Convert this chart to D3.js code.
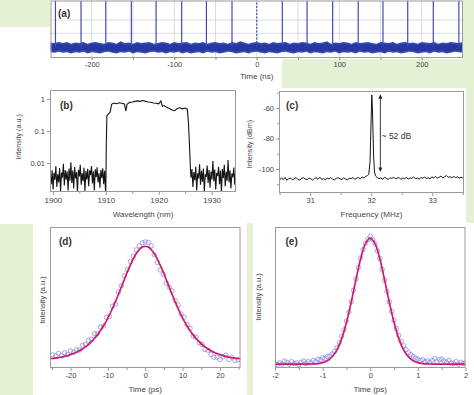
<!DOCTYPE html>
<head>
  <meta charset="utf-8">
  <script src="https://cdn.jsdelivr.net/npm/d3@7"></script>
  <style>
    body { margin: 0; background: #fff; }
    svg { display: block; font-family: 'Liberation Sans', Arial, sans-serif; }
  </style>
</head>
<body>
<svg id="fig" width="474" height="395"></svg>
<script>
// ---- (a) pulse train, time in ns ----
const aPulseT = [-244, -213, -183, -152, -122, -91, -61, -30, 0, 31, 61, 92, 123, 153, 183, 214, 245]
const aPulseH = [1, 1, 1, 1, 1, 1, 1, 1, 1, 1, 1, 1, 1, 1, 1, 1, 1]
const aTicks = [-200, -100, 0, 100, 200]
const aGrid = [-200, -150, -100, -50, 0, 50, 100, 150, 200]
const aGridY = [0.43, 0.66]
// noise band envelope, every 5 ns from -250 to 250
const aBandTop = [0.27,0.26,0.28,0.26,0.28,0.25,0.27,0.26,0.28,0.25,0.27,0.28,0.26,0.25,0.28,0.27,0.25,0.29,0.26,0.27,
  0.25,0.28,0.26,0.27,0.28,0.25,0.26,0.28,0.27,0.25,0.28,0.26,0.27,0.28,0.25,0.27,0.26,0.28,0.25,0.27,
  0.28,0.26,0.27,0.25,0.28,0.26,0.29,0.27,0.25,0.27,0.28,0.26,0.27,0.25,0.28,0.26,0.27,0.28,0.25,0.27,
  0.26,0.28,0.27,0.25,0.28,0.26,0.27,0.29,0.25,0.27,0.26,0.28,0.27,0.25,0.28,0.26,0.27,0.28,0.26,0.25,
  0.28,0.27,0.26,0.28,0.25,0.27,0.28,0.26,0.27,0.25,0.28,0.27,0.26,0.28,0.25,0.27,0.26,0.28,0.27,0.26,0.28]
const aBandBot = [0.1,0.09,0.11,0.09,0.1,0.08,0.1,0.09,0.11,0.08,0.1,0.09,0.08,0.1,0.11,0.09,0.08,0.1,0.09,0.11,
  0.08,0.1,0.09,0.08,0.1,0.11,0.09,0.1,0.08,0.1,0.09,0.11,0.08,0.1,0.08,0.09,0.1,0.08,0.11,0.09,
  0.1,0.08,0.09,0.11,0.1,0.08,0.09,0.1,0.08,0.1,0.11,0.09,0.08,0.1,0.09,0.08,0.1,0.11,0.09,0.08,
  0.1,0.09,0.11,0.08,0.1,0.09,0.08,0.1,0.09,0.11,0.08,0.1,0.09,0.1,0.08,0.11,0.09,0.1,0.08,0.09,
  0.1,0.08,0.11,0.09,0.1,0.08,0.09,0.11,0.1,0.08,0.09,0.1,0.08,0.11,0.09,0.1,0.08,0.09,0.11,0.1,0.09]

// ---- (b) optical spectrum ----
const bTicks = [1900, 1910, 1920, 1930]
const bMinor = [1905, 1915, 1925]
const bYTicks = [1, 0.1, 0.01]
// noise floor 1899.5 .. 1909.95 nm
const bLeft = [0.004,0.0022,0.006,0.0015,0.005,0.003,0.008,0.0018,0.0045,0.0025,0.007,0.0013,0.005,0.0035,0.0095,0.002,0.006,0.003,0.0055,0.0014,
  0.0068,0.0028,0.0105,0.0024,0.0058,0.0016,0.0075,0.0033,0.0052,0.0012,0.0062,0.0038,0.0088,0.0021,0.0049,0.0027,0.0071,0.0013,0.0056,0.0031,
  0.0066,0.0019,0.0059,0.0042,0.0081,0.0023,0.0054,0.0014,0.0064,0.0036,0.0074,0.0025,0.0048,0.0017,0.0061,0.0034,0.0069,0.0022,0.0057,0.0012]
// spectrum top [nm, a.u.]
const bTop = [[1910.0,0.0015],[1910.1,0.05],[1910.2,0.3],[1910.5,0.34],[1910.8,0.38],[1911.1,0.68],[1911.5,0.74],[1912,0.71],[1912.5,0.76],[1913,0.73],
  [1913.5,0.7],[1913.8,0.42],[1914.0,0.68],[1914.5,0.78],[1915,0.8],[1915.5,0.84],[1916,0.87],[1916.5,0.84],[1917,0.89],[1917.5,0.84],
  [1918,0.8],[1918.5,0.79],[1919,0.75],[1919.5,0.73],[1920,0.7],[1920.4,0.86],[1920.7,0.58],[1921,0.62],[1921.5,0.55],[1922,0.5],
  [1922.5,0.45],[1923,0.43],[1923.5,0.5],[1924,0.53],[1924.5,0.49],[1925,0.52],[1925.4,0.48],[1925.6,0.2],[1925.8,0.04],[1926.0,0.006]]
// noise floor 1926.1 .. 1934.9 nm
const bRight = [0.0035,0.0065,0.0018,0.0052,0.0029,0.0078,0.0014,0.0048,0.0033,0.0092,0.0021,0.0057,0.0026,0.0068,0.0013,0.0045,0.0037,0.0083,0.0024,0.0061,
  0.0017,0.0054,0.0031,0.0115,0.0027,0.0063,0.0015,0.0049,0.0039,0.0076,0.0022,0.0058,0.0012,0.0066,0.0034,0.0089,0.0019,0.0053,0.0028,0.0125,
  0.0025,0.0059,0.0016,0.0047,0.0036,0.0072,0.0021,0.0056,0.0014,0.0062]

// ---- (c) RF spectrum ----
const cTicks = [31, 32, 33]
const cMinor = [30.5, 31.5, 32.5, 33.5]
const cYTicks = [-60, -80, -100]
const cYMinor = [-50, -70, -90, -110]
// baseline 30.5 .. 31.94 MHz
const cLeft = [-107.2,-105.8,-106.9,-105.5,-107.5,-106.2,-105.9,-107.1,-106.4,-105.6,-106.8,-107.3,-106.0,-105.7,-106.6,-107.0,-105.9,-106.3,-107.4,-106.1,
  -105.8,-106.7,-105.4,-106.9,-106.2,-107.1,-105.9,-106.5,-105.6,-106.8,-107.0,-106.1,-105.7,-106.4,-106.9,-105.8,-106.6,-107.2,-105.9,-106.3,
  -105.5,-106.8,-106.0,-105.6,-106.4,-105.2,-105.8,-104.9,-104.2]
const cPeak = [[31.96,-103.5],[31.98,-96],[31.99,-82],[32.0,-66],[32.01,-51.5],[32.02,-60],[32.03,-76],[32.04,-92],[32.055,-102]]
// baseline 32.07 .. 33.5 MHz
const cRight = [-104.5,-105.6,-106.3,-105.8,-106.7,-105.4,-106.1,-106.9,-105.7,-106.2,-105.3,-106.5,-106.0,-105.6,-106.8,-105.9,-106.3,-105.5,-106.6,-105.8,
  -106.1,-105.2,-106.4,-105.9,-106.7,-105.6,-106.0,-105.3,-106.2,-105.7,-106.5,-105.1,-105.9,-104.8,-106.0,-105.4,-104.6,-105.8,-105.2,-104.3,
  -105.5,-105.0,-105.7,-104.9,-105.6,-105.1,-105.9,-105.4,-105.8]
const cArrow = { f: 32.15, top: -51, bottom: -102, label: '~ 52 dB', labelF: 32.17, labelDb: -78.5 }

// ---- (d) autocorrelation, ps ----
const dTicks = [-20, -10, 0, 10, 20]
const dMinor = [-25, -15, -5, 5, 15, 25]
// measured points, -24.8 .. 24.8 ps every 0.8 ps
const dDots = [0.108,0.10,0.12,0.10,0.125,0.112,0.14,0.129,0.149,0.147,0.186,0.193,0.228,0.236,0.283,0.282,0.336,0.345,0.417,0.424,
  0.508,0.524,0.624,0.675,0.757,0.809,0.875,0.917,0.97,1.003,1.028,1.035,1.033,1.003,0.93,0.867,0.805,0.769,0.697,0.665,
  0.634,0.554,0.518,0.444,0.417,0.355,0.326,0.262,0.253,0.206,0.193,0.153,0.146,0.112,0.089,0.089,0.07,0.092,0.105,0.07,
  0.09,0.061,0.068]
// fit, -25.6 .. 25.6 ps every 0.8 ps
const dFit = [0.076,0.078,0.081,0.085,0.090,0.095,0.102,0.110,0.119,0.129,0.142,0.156,0.173,0.193,0.216,0.243,0.272,0.306,0.345,0.387,
  0.434,0.488,0.544,0.604,0.665,0.727,0.789,0.845,0.897,0.940,0.973,0.993,1.0,0.993,0.973,0.940,0.897,0.845,0.789,0.727,
  0.665,0.604,0.544,0.488,0.434,0.387,0.345,0.306,0.272,0.243,0.216,0.193,0.173,0.156,0.142,0.129,0.119,0.110,0.102,0.095,
  0.090,0.085,0.081,0.078,0.076]

// ---- (e) compressed pulse autocorrelation, ps ----
const eTicks = [-2, -1, 0, 1, 2]
const eMinor = [-1.5, -0.5, 0.5, 1.5]
// measured points, -2 .. 2 ps every 0.05 ps
const eDots = [0.035,0.028,0.04,0.03,0.055,0.045,0.03,0.05,0.035,0.04,0.025,0.045,0.055,0.035,0.05,0.04,0.06,0.05,0.07,0.065,
  0.08,0.075,0.09,0.095,0.11,0.13,0.16,0.20,0.25,0.30,0.37,0.44,0.52,0.61,0.70,0.79,0.865,0.93,0.98,1.01,
  1.035,1.01,0.975,0.92,0.86,0.775,0.69,0.60,0.52,0.445,0.375,0.31,0.255,0.21,0.175,0.145,0.12,0.105,0.09,0.08,
  0.07,0.06,0.065,0.05,0.055,0.045,0.06,0.075,0.05,0.065,0.07,0.055,0.045,0.06,0.04,0.035,0.05,0.03,0.045,0.035,0.04]
// fit, -2 .. 2 ps every 0.1 ps
const eFit = [0.03,0.03,0.03,0.03,0.03,0.03,0.03,0.031,0.032,0.035,0.042,0.057,0.088,0.143,0.231,0.357,0.517,0.694,0.860,0.977,
  1.02,0.977,0.860,0.694,0.517,0.357,0.231,0.143,0.088,0.057,0.042,0.035,0.032,0.031,0.03,0.03,0.03,0.03,0.03,0.03,0.03]

const svg = d3.select('#fig')
const green = '#e4f1d5', frameCol = '#9a9a9a', txt = '#444'
const grid = (a, b, n) => d3.range(n).map(i => a + i * (b - a) / (n - 1))

// light green page background pieces
svg.append('path').attr('fill', green).attr('d', 'M0,0H50V27H0Z')
svg.append('path').attr('fill', green).attr('d', 'M463,0H474V223H466V88H282V59H463Z')
svg.append('path').attr('fill', green).attr('d', 'M0,224H33V395H0Z')
svg.append('path').attr('fill', green).attr('d', 'M247,223H253V395H247Z')

let clipN = 0
function panel(x, y, top) {
  const [x0, x1] = x.range(), y1 = y.range()[0], y0 = top ?? y.range()[1]
  const g = svg.append('g')
  const id = 'clip' + (clipN++)
  g.append('clipPath').attr('id', id).append('rect')
    .attr('x', x0).attr('y', y0).attr('width', x1 - x0).attr('height', y1 - y0)
  const plot = g.append('g').attr('clip-path', `url(#${id})`)
  return { g, plot, box: [x0, y0, x1, y1] }
}
function frame(p) {
  const [x0, y0, x1, y1] = p.box
  p.g.append('rect').attr('x', x0 + 0.5).attr('y', y0 + 0.5).attr('width', x1 - x0 - 1).attr('height', y1 - y0 - 1)
    .attr('fill', 'none').attr('stroke', frameCol)
}
function styleAxis(ax, size) {
  ax.select('.domain').remove()
  ax.selectAll('line').attr('stroke', frameCol)
  ax.selectAll('text').attr('font-size', size).attr('fill', txt).attr('font-family', null)
}
function xAxis(p, x, ticks, minor, size, len) {
  const y = p.box[3]
  const ax = p.g.append('g').attr('transform', `translate(0,${y})`)
    .call(d3.axisBottom(x).tickValues(ticks).tickSize(len).tickSizeOuter(0).tickPadding(2).tickFormat(d => String(d)))
  styleAxis(ax, size)
  if (minor) {
    const m = p.g.append('g').attr('transform', `translate(0,${y})`)
      .call(d3.axisBottom(x).tickValues(minor).tickSize(2).tickSizeOuter(0).tickFormat(''))
    styleAxis(m, size)
  }
}
function yAxis(p, y, ticks, minor, size, fmt) {
  const x = p.box[0]
  const ax = p.g.append('g').attr('transform', `translate(${x},0)`)
    .call(d3.axisLeft(y).tickValues(ticks).tickSize(3).tickSizeOuter(0).tickPadding(2).tickFormat(fmt))
  styleAxis(ax, size)
  if (minor) {
    const m = p.g.append('g').attr('transform', `translate(${x},0)`)
      .call(d3.axisLeft(y).tickValues(minor).tickSize(2).tickSizeOuter(0).tickFormat(''))
    styleAxis(m, size)
  }
}
function label(x, y, s, size, opts = {}) {
  const t = svg.append('text').attr('x', x).attr('y', y).attr('font-size', size).attr('fill', opts.fill || txt)
    .attr('text-anchor', opts.anchor || 'middle').attr('dominant-baseline', 'central').text(s)
  if (opts.bold) t.attr('font-weight', 'bold')
  if (opts.rotate) t.attr('transform', `rotate(-90,${x},${y})`)
  return t
}

// ================= (a) =================
{
  const x = d3.scaleLinear([-250, 250], [50.5, 463])
  const y = d3.scaleLinear([0, 1], [58, 0.5])
  const p = panel(x, y)
  p.plot.selectAll('.gx').data(aGrid).join('line')
    .attr('x1', x).attr('x2', x).attr('y1', 0).attr('y2', 58).attr('stroke', '#d2d2d2').attr('stroke-width', 0.8)
  p.plot.selectAll('.gy').data(aGridY).join('line')
    .attr('x1', 50).attr('x2', 463).attr('y1', y).attr('y2', y).attr('stroke', '#d2d2d2').attr('stroke-width', 0.8)
  const tb = grid(-250, 250, aBandTop.length)
  p.plot.append('path')
    .attr('d', d3.area().x((d, i) => x(tb[i])).y0((d, i) => y(aBandBot[i])).y1(d => y(d))(aBandTop))
    .attr('fill', '#3849b8')
  p.plot.append('path')
    .attr('d', d3.area().x((d, i) => x(tb[i])).y0((d, i) => y(aBandBot[i] + 0.03)).y1(d => y(d - 0.03))(aBandTop))
    .attr('fill', '#27379f')
  p.plot.selectAll('.pulse').data(aPulseT).join('line')
    .attr('x1', d => x(d)).attr('x2', d => x(d))
    .attr('y1', y(0.2)).attr('y2', (d, i) => y(aPulseH[i]))
    .attr('stroke', '#3d4bbb').attr('stroke-width', 1.2)
    .attr('stroke-dasharray', d => d === 0 ? '2,1.5' : null)
  xAxis(p, x, aTicks, aGrid, 7.5, 2)
  frame(p)
  label(58, 13, '(a)', 10, { bold: true, anchor: 'start', fill: '#333' })
  label(x(0), 76.5, 'Time (ns)', 8)
}

// ================= (b) =================
{
  const x = d3.scaleLinear([1899.45, 1934.6], [50, 236])
  const y = d3.scaleLog([0.00125, 1.9], [192, 90])
  const p = panel(x, y)
  const pts = [
    ...bLeft.map((v, i, a) => [grid(1899.5, 1909.95, a.length)[i], v]),
    ...bTop,
    ...bRight.map((v, i, a) => [grid(1926.1, 1934.9, a.length)[i], v])
  ]
  p.plot.append('path')
    .attr('d', d3.line().x(d => x(d[0])).y(d => y(d[1]))(pts))
    .attr('fill', 'none').attr('stroke', '#151515').attr('stroke-width', 1.1)
  xAxis(p, x, bTicks, bMinor, 8, 3)
  yAxis(p, y, bYTicks, null, 7.5, d => String(d))
  frame(p)
  label(60, 105, '(b)', 10, { bold: true, anchor: 'start', fill: '#333' })
  label((x.range()[0] + x.range()[1]) / 2, 214.5, 'Wavelength (nm)', 8)
  label(18, 137, 'Intensity (a.u.)', 7.2, { rotate: true })
}

// ================= (c) =================
{
  const x = d3.scaleLinear([30.49, 33.52], [279, 464])
  const y = d3.scaleLinear([-115.7, -48.9], [193, 91])
  const p = panel(x, y)
  const pts = [
    ...cLeft.map((v, i, a) => [grid(30.5, 31.94, a.length)[i], v]),
    ...cPeak,
    ...cRight.map((v, i, a) => [grid(32.07, 33.5, a.length)[i], v])
  ]
  p.plot.append('path')
    .attr('d', d3.line().x(d => x(d[0])).y(d => y(d[1]))(pts))
    .attr('fill', 'none').attr('stroke', '#151515').attr('stroke-width', 1)
  // double arrow
  const ax = x(cArrow.f), yt = y(cArrow.top), yb = y(cArrow.bottom)
  p.g.append('line').attr('x1', ax).attr('x2', ax).attr('y1', yt + 3).attr('y2', yb - 3)
    .attr('stroke', '#222').attr('stroke-width', 0.9)
  p.g.append('path').attr('fill', '#222')
    .attr('d', `M${ax},${yt}l-2,4.5h4Z M${ax},${yb}l-2,-4.5h4Z`)
  svg.append('text').attr('x', x(cArrow.labelF)).attr('y', y(cArrow.labelDb))
    .attr('font-size', 8.5).attr('fill', '#333').attr('dominant-baseline', 'central').text(cArrow.label)
  xAxis(p, x, cTicks, cMinor, 7.5, 3)
  yAxis(p, y, cYTicks, cYMinor, 7.5, d => String(d))
  frame(p)
  label(286, 105, '(c)', 10, { bold: true, anchor: 'start', fill: '#333' })
  label((x.range()[0] + x.range()[1]) / 2, 214, 'Frequency (MHz)', 8)
  label(249, 144, 'Intensity (dBm)', 7.2, { rotate: true })
}

// circles + fit panels
function pulsePanel(x, y, dotsT, dots, fitT, fit) {
  const p = panel(x, y, 227)
  p.plot.selectAll('circle').data(dots).join('circle')
    .attr('cx', (d, i) => x(dotsT[i])).attr('cy', d => y(d)).attr('r', 2.2)
    .attr('fill', 'none').attr('stroke', '#8f8ae2').attr('stroke-width', 0.8)
  p.plot.append('path')
    .attr('d', d3.line().x((d, i) => x(fitT[i])).y(d => y(d)).curve(d3.curveCatmullRom)(fit))
    .attr('fill', 'none').attr('stroke', '#d21a68').attr('stroke-width', 1.7)
  return p
}

// ================= (d) =================
{
  const x = d3.scaleLinear([-25.5, 25.5], [50, 240.5])
  const y = d3.scaleLinear([0, 1.15], [368, 228])
  const p = pulsePanel(x, y, grid(-24.8, 24.8, dDots.length), dDots, grid(-25.6, 25.6, dFit.length), dFit)
  xAxis(p, x, dTicks, dMinor, 7.5, 3)
  frame(p)
  label(59, 241, '(d)', 10, { bold: true, anchor: 'start', fill: '#333' })
  label(x(0), 389.5, 'Time (ps)', 8)
  label(42, 300, 'Intensity (a.u.)', 7.5, { rotate: true })
}

// ================= (e) =================
{
  const x = d3.scaleLinear([-2, 2], [275, 465.5])
  const y = d3.scaleLinear([0, 1.1], [368, 228])
  const p = pulsePanel(x, y, grid(-2, 2, eDots.length), eDots, grid(-2, 2, eFit.length), eFit)
  xAxis(p, x, eTicks, eMinor, 7.5, 3)
  frame(p)
  label(285.5, 241, '(e)', 10, { bold: true, anchor: 'start', fill: '#333' })
  label(x(0), 389.5, 'Time (ps)', 8)
  label(258, 297, 'Intensity (a.u.)', 7.5, { rotate: true })
}
</script>
</body>
